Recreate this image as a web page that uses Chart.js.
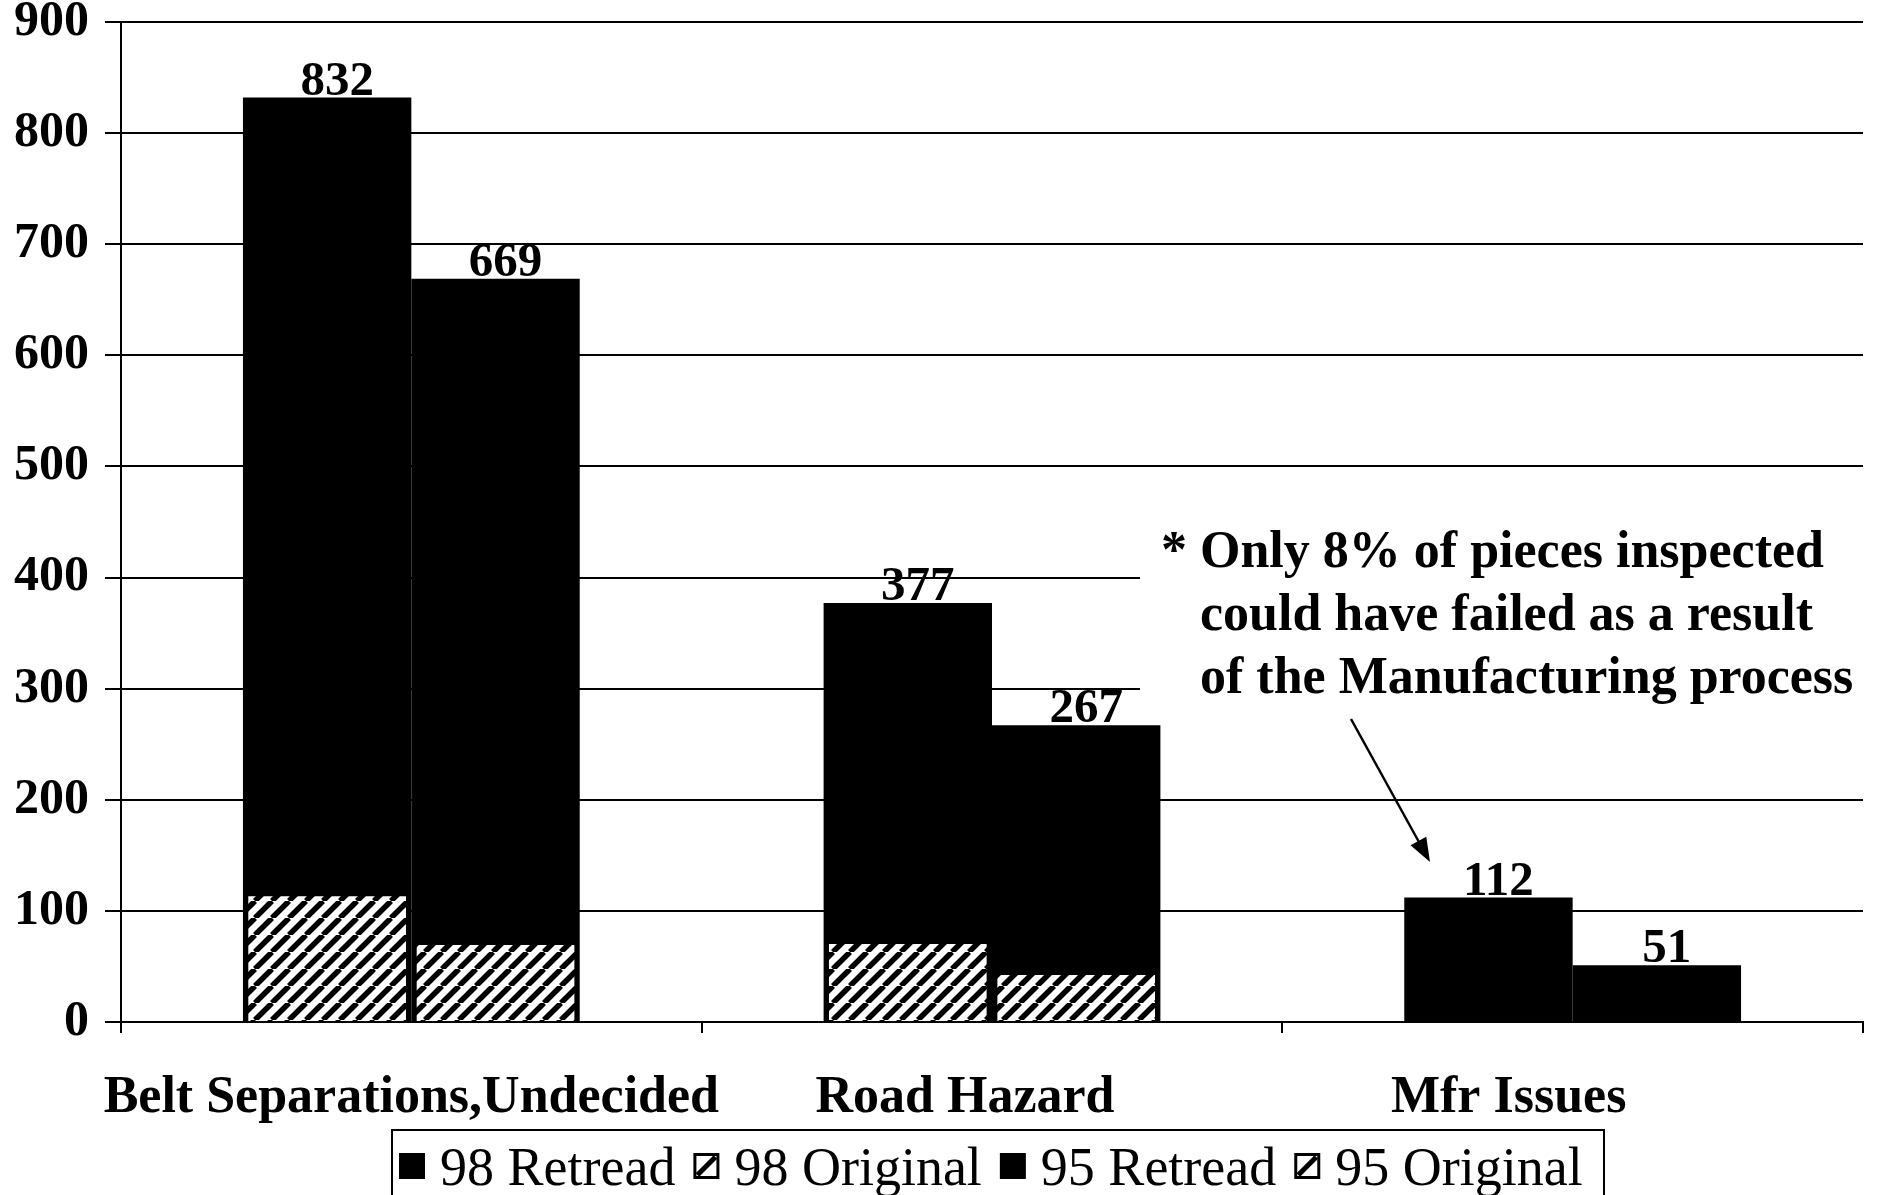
<!DOCTYPE html>
<html><head><meta charset="utf-8">
<script src="https://cdn.jsdelivr.net/npm/chart.js@4.4.1/dist/chart.umd.min.js"></script>
<style>html,body{margin:0;padding:0;background:#fff;overflow:hidden}canvas{display:block}</style>
</head><body>
<canvas id="c" width="1891" height="1195" style="width:1891px;height:1195px"></canvas>
<script>
// ---- data ----
const categories = ['Belt Separations,Undecided', 'Road Hazard', 'Mfr Issues'];
const retread98 = [832, 377, 112];
const original98 = [115, 72, 0];
const retread95 = [669, 267, 51];
const original95 = [71, 44, 0];
const yMin = 0, yMax = 900, yStep = 100;
const legendOrder = ['98 Retread', '98 Original', '95 Retread', '95 Original'];
const noteLines = ['* Only 8% of pieces inspected', 'could have failed as a result', 'of the Manufacturing process'];

// ---- styles ----
const FONT = "'Liberation Serif', 'Times New Roman', serif";
const AREA = { top: 22, bottom: 1022, left: 121, right: 1863 };
function hatch() {
  const s = 17, c = document.createElement('canvas');
  c.width = s; c.height = s;
  const g = c.getContext('2d');
  g.fillStyle = '#fff'; g.fillRect(0, 0, s, s);
  g.strokeStyle = '#000'; g.lineWidth = 5.5;
  for (const k of [-1, 0, 1]) { g.beginPath(); g.moveTo(k * s, s); g.lineTo(k * s + s, 0); g.stroke(); }
  return document.getElementById('c').getContext('2d').createPattern(c, 'repeat');
}
const HATCH = hatch();
const catShift = [0, -27, -64];

const decor = {
  id: 'decor',
  beforeDatasetsDraw(chart) {
    const ctx = chart.ctx;
    ctx.save();
    ctx.fillStyle = '#fff';
    ctx.fillRect(1140, 505, 735, 207);
    ctx.restore();
  },
  afterDatasetsDraw(chart) {
    const ctx = chart.ctx;
    ctx.save();
    ctx.fillStyle = '#000';
    // value labels on retread bars
    ctx.font = 'bold 49px ' + FONT;
    ctx.textAlign = 'center';
    ctx.textBaseline = 'alphabetic';
    chart.data.datasets.forEach((ds, di) => {
      if (!ds.label.includes('Retread')) return;
      const meta = chart.getDatasetMeta(di);
      meta.data.forEach((bar, i) => {
        ctx.fillText(String(ds.data[i]), bar.x + 10, bar.y - 3);
      });
    });
    // category labels
    const xs = chart.scales.x;
    ctx.font = 'bold 52px ' + FONT;
    chart.data.labels.forEach((lab, i) => {
      ctx.fillText(lab, xs.getPixelForValue(i) + catShift[i], 1112);
    });
    // annotation text
    ctx.textAlign = 'left';
    ctx.font = 'bold 52px ' + FONT;
    ctx.fillText(noteLines[0], 1161, 567);
    const indent = 1161 + ctx.measureText('* ').width;
    ctx.fillText(noteLines[1], indent, 630);
    ctx.fillText(noteLines[2], indent, 693);
    // arrow
    const x1 = 1351, y1 = 719, x2 = 1430, y2 = 862;
    const ang = Math.atan2(y2 - y1, x2 - x1);
    ctx.strokeStyle = '#000'; ctx.lineWidth = 2.5;
    ctx.beginPath(); ctx.moveTo(x1, y1);
    ctx.lineTo(x2 - 18 * Math.cos(ang), y2 - 18 * Math.sin(ang)); ctx.stroke();
    ctx.beginPath();
    ctx.moveTo(x2, y2);
    ctx.lineTo(x2 - 24 * Math.cos(ang) + 9 * Math.sin(ang), y2 - 24 * Math.sin(ang) - 9 * Math.cos(ang));
    ctx.lineTo(x2 - 24 * Math.cos(ang) - 9 * Math.sin(ang), y2 - 24 * Math.sin(ang) + 9 * Math.cos(ang));
    ctx.closePath(); ctx.fill();
    // legend
    ctx.lineWidth = 2;
    ctx.strokeRect(392, 1130, 1212, 90);
    ctx.font = '54px ' + FONT;
    ctx.textBaseline = 'alphabetic';
    let x = 399;
    legendOrder.forEach(name => {
      const ds = chart.data.datasets.find(d => d.label === name);
      const m = 26, my = 1153;
      if (name.includes('Original')) {
        ctx.fillStyle = '#fff'; ctx.fillRect(x, my, m, m);
        ctx.strokeStyle = '#000'; ctx.lineWidth = 3; ctx.strokeRect(x + 1.5, my + 1.5, m - 3, m - 3);
        ctx.lineWidth = 5; ctx.beginPath(); ctx.moveTo(x + 4, my + m - 4); ctx.lineTo(x + m - 4, my + 4); ctx.stroke();
      } else {
        ctx.fillStyle = ds.backgroundColor; ctx.fillRect(x, my, m, m);
      }
      x += m + 15;
      ctx.fillStyle = '#000';
      ctx.fillText(name, x, 1185);
      x += ctx.measureText(name).width + 18;
    });
    ctx.restore();
  }
};

const chart = new Chart(document.getElementById('c'), {
  type: 'bar',
  data: {
    labels: categories,
    datasets: [
      { label: '98 Original', data: original98, stack: '98', order: 0, backgroundColor: HATCH, borderColor: '#000', borderWidth: 2, borderSkipped: 'bottom', barPercentage: 0.96, categoryPercentage: 0.58 },
      { label: '95 Original', data: original95, stack: '95', order: 0, backgroundColor: HATCH, borderColor: '#000', borderWidth: 2, borderSkipped: 'bottom', barPercentage: 0.96, categoryPercentage: 0.58 },
      { label: '98 Retread', data: retread98, stack: '98', order: 1, backgroundColor: '#000', borderWidth: 0, barPercentage: 1.0, categoryPercentage: 0.58 },
      { label: '95 Retread', data: retread95, stack: '95', order: 1, backgroundColor: '#000', borderWidth: 0, barPercentage: 1.0, categoryPercentage: 0.58 }
    ]
  },
  options: {
    responsive: false,
    animation: false,
    events: [],
    layout: { padding: { left: 0, right: 28, top: 22, bottom: 0 } },
    plugins: { legend: { display: false }, tooltip: { enabled: false }, title: { display: false } },
    scales: {
      x: {
        stacked: true,
        offset: true,
        grid: { display: true, offset: true, drawOnChartArea: false, color: '#000', lineWidth: 2, tickLength: 11 },
        border: { display: true, color: '#000', width: 2 },
        ticks: { display: false },
        afterFit(s) { s.height = 173; s.paddingLeft = 0; s.paddingRight = 0; }
      },
      y: {
        stacked: false,
        min: yMin, max: yMax,
        ticks: { stepSize: yStep, color: '#000', padding: 16, font: { family: FONT, size: 50, weight: 'bold', lineHeight: 0.85 } },
        grid: { color: '#000', lineWidth: 2, tickLength: 16 },
        border: { display: true, color: '#000', width: 2 },
        afterFit(s) { s.width = 121; s.paddingTop = 0; s.paddingBottom = 0; }
      }
    }
  },
  plugins: [decor]
});
// nudge layout padding so the plot area lands where the reference has it
for (let k = 0; k < 3; k++) {
  const ca = chart.chartArea, p = chart.options.layout.padding;
  const dt = Math.round(ca.top - AREA.top), db = Math.round(ca.bottom - AREA.bottom),
        dl = Math.round(ca.left - AREA.left), dr = Math.round(ca.right - AREA.right);
  if (!dt && !db && !dl && !dr) break;
  p.top = Math.max(0, p.top - dt); p.bottom = Math.max(0, p.bottom + db);
  p.left = Math.max(0, p.left - dl); p.right = Math.max(0, p.right + dr);
  chart.update();
}
</script>
</body></html>
